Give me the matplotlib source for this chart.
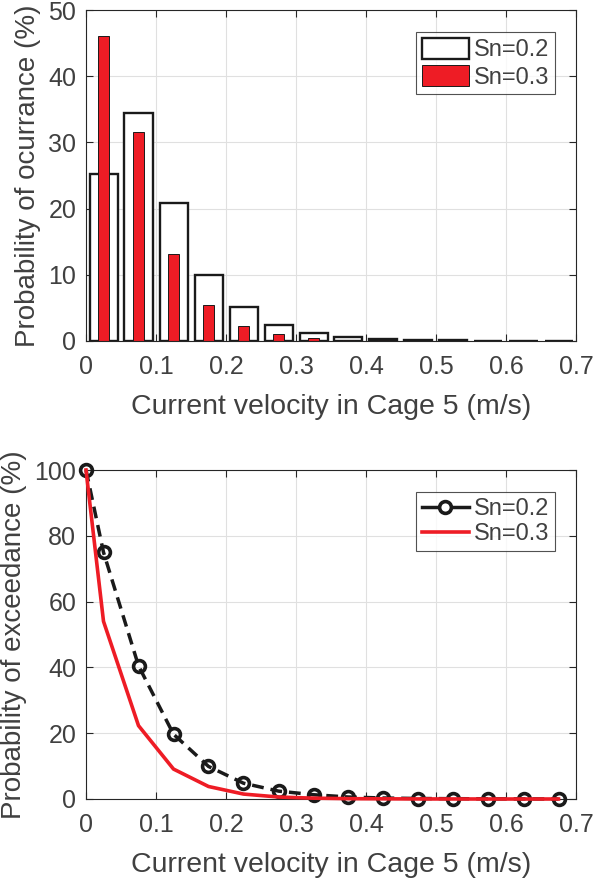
import matplotlib.pyplot as plt
import numpy as np
from matplotlib.lines import Line2D

plt.rcParams['font.family'] = ['Liberation Sans', 'DejaVu Sans']

# bin centres of current velocity (m/s)
bins = [0.025, 0.075, 0.125, 0.175, 0.225, 0.275, 0.325, 0.375,
        0.425, 0.475, 0.525, 0.575, 0.625, 0.675]
# probability of occurrence (%)
occ_sn02 = [25.3, 34.4, 20.8, 9.9, 5.2, 2.4, 1.2, 0.6, 0.3, 0.15, 0.1, 0.06, 0.04, 0.02]
occ_sn03 = [46.0, 31.5, 13.1, 5.4, 2.3, 1.0, 0.4, 0.15, 0.08, 0.04, 0.02, 0.01, 0.01, 0.0]

# probability of exceedance (%)
exc_x = [0.0] + bins
exc_sn02 = [100, 75.0, 40.5, 19.7, 9.9, 4.8, 2.4, 1.3, 0.6, 0.3, 0.15, 0.1, 0.05, 0.03, 0.01]
exc_sn03 = [100, 54.0, 22.3, 9.1, 3.8, 1.5, 0.6, 0.25, 0.1, 0.05, 0.02, 0.01, 0.0, 0.0, 0.0]

red = '#ee1c25'
dark = '#262626'
txt = '#404040'

fig = plt.figure(figsize=(5.93, 8.86), dpi=100)
ax1 = fig.add_axes([86 / 593, 1 - 341 / 886, 490 / 593, 331 / 886])
ax2 = fig.add_axes([86 / 593, 1 - 799 / 886, 490 / 593, 329 / 886])


def style(ax):
    ax.set_xlim(0, 0.7)
    ax.set_xticks(np.arange(0, 0.71, 0.1))
    ax.set_xticklabels(['0', '0.1', '0.2', '0.3', '0.4', '0.5', '0.6', '0.7'])
    ax.grid(True, color='#e0e0e0', linewidth=0.8)
    ax.set_axisbelow(True)
    ax.tick_params(direction='in', top=True, right=True, length=5,
                   labelsize=18, colors=dark, labelcolor=txt)
    ax.tick_params(axis='x', pad=10)
    ax.tick_params(axis='y', pad=7)
    for s in ax.spines.values():
        s.set_color(dark)
        s.set_linewidth(0.8)
    ax.set_xlabel('Current velocity in Cage 5 (m/s)', fontsize=20.5, color=txt,
                  labelpad=11)


ax1.bar(bins, occ_sn02, width=0.04, color='white', edgecolor='#1a1a1a',
        linewidth=1.7, label='Sn=0.2')
ax1.bar(bins, occ_sn03, width=0.015, color=red, edgecolor='#1a1a1a',
        linewidth=0.7, label='Sn=0.3')
style(ax1)
ax1.set_ylim(0, 50)
ax1.set_yticks(np.arange(0, 51, 10))
ax1.set_ylabel('Probability of ocurrance (%)', fontsize=20, color=txt,
               labelpad=5)
leg = ax1.legend(loc='upper right', bbox_to_anchor=(0.957, 0.934),
                 borderaxespad=0, fontsize=17, fancybox=False, edgecolor=dark,
                 handlelength=2.0, handleheight=1.0, handletextpad=0.2,
                 labelspacing=0.15, borderpad=0.25, labelcolor=txt)
leg.get_frame().set_linewidth(0.8)

ax2.plot(exc_x, exc_sn02, '--o', color='#1a1a1a', linewidth=2.5,
         markersize=8.5, markerfacecolor='none', markeredgewidth=2.6,
         dashes=(3.4, 2), clip_on=False, zorder=3)
ax2.plot(exc_x, exc_sn03, '-', color=red, linewidth=2.6,
         clip_on=False, zorder=4)
style(ax2)
ax2.set_ylim(0, 100)
ax2.set_yticks(np.arange(0, 101, 20))
ax2.set_ylabel('Probability of exceedance (%)', fontsize=20, color=txt,
               labelpad=5)
# legend shows the Sn=0.2 line solid, as in the original figure
handles = [Line2D([], [], color='#1a1a1a', linewidth=2.5, marker='o',
                  markersize=8.5, markerfacecolor='white', markeredgewidth=2.6),
           Line2D([], [], color=red, linewidth=2.6)]
leg2 = ax2.legend(handles, ['Sn=0.2', 'Sn=0.3'], loc='upper right',
                  bbox_to_anchor=(0.957, 0.933),
                  borderaxespad=0, fontsize=17, fancybox=False, edgecolor=dark,
                  handlelength=2.0, handletextpad=0.2, labelspacing=0.15,
                  borderpad=0.25, labelcolor=txt)
leg2.get_frame().set_linewidth(0.8)

fig.savefig('out.png', dpi=100)
